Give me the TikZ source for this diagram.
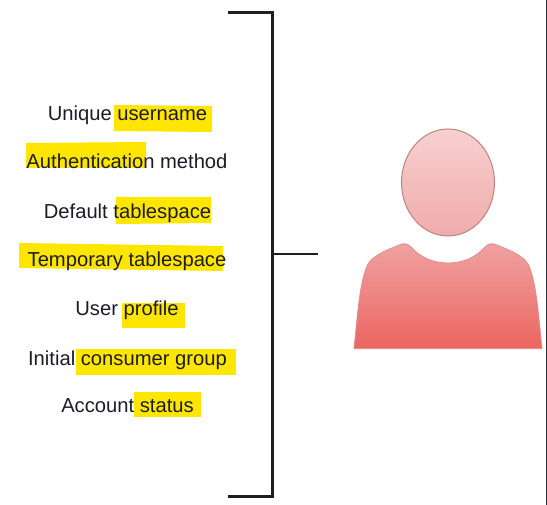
\documentclass[tikz,border=0pt]{standalone}
\usepackage{fontspec}
\setmainfont{Liberation Sans}
\definecolor{hl}{HTML}{FFE600}
\definecolor{ink}{HTML}{1C1C28}
\definecolor{edgedark}{HTML}{2B3038}
\definecolor{headtop}{HTML}{F7D0D0}
\definecolor{headbot}{HTML}{F0ABAB}
\definecolor{headline}{HTML}{C08080}
\definecolor{bodytop}{HTML}{EFA2A2}
\definecolor{bodybot}{HTML}{EC6560}
\definecolor{bodyline}{HTML}{E58A8A}
\tikzset{
  item/.style={anchor=base,inner sep=0pt,text=ink,font=\fontsize{20.2}{24}\selectfont},
  mark box/.style={fill=hl,draw=none},
  bracket/.style={draw=black!88,line width=2.5pt},
}
\begin{document}
\begin{tikzpicture}[x=1pt,y=-1pt]
\useasboundingbox (0,0) rectangle (547,505);
\fill[white] (0,0) rectangle (547,505);
\fill[edgedark] (545.8,0) rectangle (547,505);
% highlights
\fill[mark box] (114,105) -- (212,106) -- (212,132) -- (114,131) -- cycle;
\fill[mark box] (26,143) -- (146,142) -- (146,168) -- (26,168) -- cycle;
\fill[mark box] (116,197) -- (211,197) -- (211,223) -- (116,224) -- cycle;
\fill[mark box] (19,243) -- (223,246) -- (223,271) -- (19,268) -- cycle;
\fill[mark box] (122,303) rectangle (185,328);
\fill[mark box] (76,349) rectangle (236,375);
\fill[mark box] (134,392) rectangle (201,417);
% labels
\node[item] (t1) at (127.5,120.6) {Unique username};
\node[item] (t2) at (127,169) {Authentication method};
\node[item] (t3) at (127.5,218.6) {Default tablespace};
\node[item] (t4) at (127,267) {Temporary tablespace};
\node[item] (t5) at (127,315.6) {User profile};
\node[item] (t6) at (127.5,365.4) {Initial consumer group};
\node[item] (t7) at (127.5,412.6) {Account status};
% bracket
\coordinate (bt) at (228,12.5);
\coordinate (bc1) at (272.5,12.5);
\coordinate (bc2) at (272.5,496.5);
\coordinate (bb) at (228,496.5);
\coordinate (sm) at (272.5,254.5);
\coordinate (se) at (318,254.5);
\draw[bracket] (bt) -- (bc1) -- (bc2) -- (bb);
\draw[bracket,line width=2pt] (sm) -- (se);
% person
\path[top color=headtop,bottom color=headbot,draw=headline,line width=1pt]
  (448,182.5) ellipse [x radius=46.5,y radius=53.5];
\path[top color=bodytop,bottom color=bodybot,draw=bodyline,line width=0.8pt]
  (354,348.7)
  .. controls (358,310) and (360,280) .. (368,264)
  .. controls (374,254) and (392,248) .. (402,244)
  .. controls (406,243) and (409,245) .. (412,248)
  .. controls (421,258) and (434,263) .. (448,263)
  .. controls (462,263) and (475,258) .. (484,248)
  .. controls (487,245) and (490,243) .. (494,244)
  .. controls (504,248) and (522,254) .. (528,264)
  .. controls (536,280) and (538,310) .. (542,348.7)
  -- cycle;
\end{tikzpicture}
\end{document}
